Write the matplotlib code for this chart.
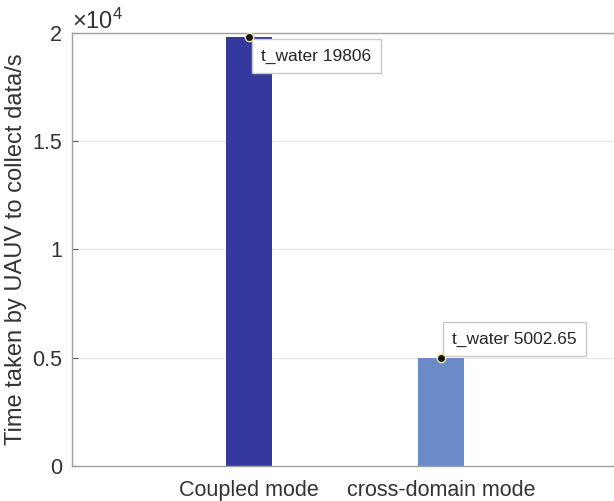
import matplotlib.pyplot as plt
from matplotlib.ticker import ScalarFormatter

plt.rcParams['font.family'] = ['Liberation Sans', 'DejaVu Sans']
plt.rcParams['mathtext.fontset'] = 'custom'
plt.rcParams['mathtext.rm'] = 'Liberation Sans'

# data
modes = ['Coupled mode', 'cross-domain mode']
t_water = [19806, 5002.65]
positions = [1, 2]
colors = ['#35389c', '#6a8ac8']
tip_labels = ['t_water 19806', 't_water 5002.65']


# tick labels like matlab: 0, 0.5, 1, 1.5, 2
class GFormatter(ScalarFormatter):
    def _set_format(self):
        self.format = '%g'


fig = plt.figure(figsize=(6.14, 5.01), dpi=100)
ax = fig.add_axes([0.117, 0.070, 0.883, 0.864])

ax.bar(positions, t_water, width=0.24, color=colors, edgecolor='none', zorder=2)

ax.set_xlim(0.078, 2.90)
ax.set_ylim(0, 20000)
ax.set_yticks([0, 5000, 10000, 15000, 20000])
ax.set_xticks(positions)
ax.set_xticklabels(modes)

fmt = GFormatter(useMathText=True)
fmt.set_powerlimits((0, 0))
ax.yaxis.set_major_formatter(fmt)
ax.yaxis.get_offset_text().set_fontsize(17)
ax.yaxis.get_offset_text().set_color('#333333')

ax.yaxis.grid(True, color='#e6e6e6', linewidth=0.8, zorder=0)
ax.set_axisbelow(True)

for s in ['left', 'bottom', 'top']:
    ax.spines[s].set_color('#a0a0a0')
    ax.spines[s].set_linewidth(1.0)
ax.spines['right'].set_visible(False)

ax.tick_params(direction='in', length=4, width=0.8, color='#555555',
               labelsize=15.5, labelcolor='#333333', pad=7)
ax.tick_params(axis='x', pad=10)

ax.set_ylabel('Time taken by UAUV to collect data/s', fontsize=17,
              color='#333333', labelpad=4)

# data tips
offsets = [(9, -8), (8, 8)]
aligns = [('left', 'top'), ('left', 'bottom')]
for x, y, lab, off, al in zip(positions, t_water, tip_labels, offsets, aligns):
    ax.annotate(lab, xy=(x, y), xytext=off, textcoords='offset points',
                ha=al[0], va=al[1], fontsize=12.5, color='#262626', zorder=6,
                bbox=dict(boxstyle='square,pad=0.55', facecolor='white',
                          edgecolor='#c8c8c8', linewidth=1))
    ax.plot(x, y, 'o', markersize=6, markerfacecolor='#111111',
            markeredgecolor='#f0e6a0', markeredgewidth=1, zorder=7, clip_on=False)

fig.savefig('out.png', dpi=100)
